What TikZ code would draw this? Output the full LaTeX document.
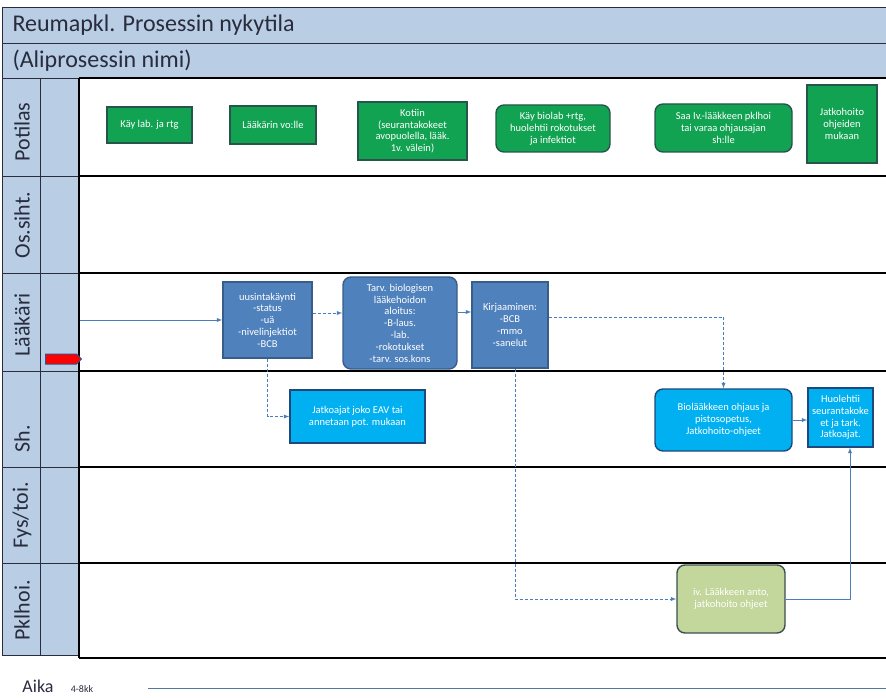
\documentclass[tikz,border=0pt]{standalone}
\usepackage{fontspec}
\setmainfont{Carlito}
\usetikzlibrary{arrows,shapes.symbols,positioning}

\definecolor{lanefill}{RGB}{185,205,229}
\definecolor{linec}{RGB}{40,44,60}
\definecolor{greenfill}{RGB}{18,163,82}
\definecolor{greenedge}{RGB}{40,85,75}
\definecolor{bluefill}{RGB}{79,129,189}
\definecolor{blueedge}{RGB}{56,93,138}
\definecolor{skyfill}{RGB}{0,176,240}
\definecolor{skyedge}{RGB}{31,73,125}
\definecolor{olivefill}{RGB}{195,214,155}
\definecolor{oliveedge}{RGB}{60,80,80}
\definecolor{arrowc}{RGB}{74,126,187}
\definecolor{markedge}{RGB}{56,80,140}
\definecolor{timec}{RGB}{80,120,160}

\newcommand{\boxfont}{\fontsize{10.5}{11.8}\selectfont}

\begin{document}
\begin{tikzpicture}[
  x=1pt, y=-1pt,
  >=latex,
  mybox/.style={
    line width=1.4pt,
    text=white,
    align=center,
    inner sep=2pt,
    font=\boxfont
    },
  mygreen/.style={mybox, draw=greenedge, fill=greenfill},
  myblue/.style={mybox, draw=blueedge, fill=bluefill},
  mysky/.style={mybox, draw=skyedge, fill=skyfill},
  myolive/.style={mybox, draw=oliveedge, fill=olivefill},
  myround/.style={rounded corners=8pt},
  myarrow/.style={->, draw=arrowc, line width=0.9pt},
  mydash/.style={myarrow, dash pattern=on 3pt off 2pt},
  lanelabel/.style={rotate=90, anchor=west, text=linec,
    font=\fontsize{22}{24}\selectfont}
]
\useasboundingbox (0,0) rectangle (886,698);

% title bars
\draw[fill=lanefill, draw=linec] (2,7) rectangle (890,43);
\node[anchor=west, text=linec, font=\fontsize{24}{27}\selectfont] (title) at (9,25) {Reumapkl. Prosessin nykytila};
\draw[fill=lanefill, draw=linec] (2,43) rectangle (890,78);
\node[anchor=west, text=linec, font=\fontsize{24}{27}\selectfont] (subtitle) at (9,61) {(Aliprosessin nimi)};

% lanes
\foreach \top/\bot/\lbl [count=\i] in {78/176/Potilas, 176/273/Os.siht., 273/371/Lääkäri,
    371/467/Sh., 467/563/{Fys/toi.}, 563/655/Pklhoi.} {
  \draw[fill=lanefill, draw=linec] (2,\top) rectangle (40,\bot);
  \draw[fill=lanefill, draw=linec] (40,\top) rectangle (79,\bot);
  \node[lanelabel] (lane\i) at (22,\bot-11) {\lbl};
}
\draw[line width=2.2pt] (79,78) -- (79,658);
\foreach \y in {78,176,273,371,467,563,658}
    \draw[line width=2.2pt] (79,\y) -- (890,\y);

% Potilas
\node[mygreen, minimum width=85, minimum height=36] (kay) at (149.5,125) {Käy lab. ja rtg};
\node[mygreen, minimum width=86, minimum height=38] (vo) at (273,125) {Lääkärin vo:lle};
\node[mygreen, minimum width=109, minimum height=58] (kotiin) at (412.5,131)
    {Kotiin\\(seurantakokeet\\avopuolella, lääk.\\1v. välein)};
\node[mygreen, myround, minimum width=114, minimum height=47] (biolab) at (553,128.5)
    {Käy biolab +rtg,\\huolehtii rokotukset\\ja infektiot};
\node[mygreen, myround, minimum width=137, minimum height=48] (saa) at (723.5,128)
    {Saa Iv.-lääkkeen pklhoi\\tai varaa ohjausajan\\sh:lle};
\node[mygreen, minimum width=70, minimum height=78] (jatkoh) at (842,124)
    {Jatkohoito\\ohjeiden\\mukaan};

% Lääkäri
\node[myblue, minimum width=89, minimum height=76] (uusinta) at (267.5,320)
    {uusintakäynti\\-status\\-uä\\-nivelinjektiot\\-BCB};
\node[myblue, myround, minimum width=114, minimum height=92] (tarv) at (400,323)
    {Tarv. biologisen\\lääkehoidon\\aloitus:\\-B-laus.\\-lab.\\-rokotukset\\-tarv. sos.kons};
\node[myblue, minimum width=76, minimum height=86] (kirj) at (510,325)
    {Kirjaaminen:\\-BCB\\-mmo\\-sanelut};

% Sh.
\node[mysky, minimum width=135, minimum height=53] (jatko) at (357.5,416.5)
    {Jatkoajat joko EAV tai\\annetaan pot. mukaan};
\node[mysky, myround, minimum width=137, minimum height=62] (bioohj) at (723.5,420)
    {Biolääkkeen ohjaus ja\\pistosopetus,\\Jatkohoito-ohjeet};
\node[mysky, minimum width=65, minimum height=59] (huol) at (840.5,417.5)
    {Huolehtii\\seurantakoke\\et ja tark.\\Jatkoajat.};

% Pklhoi.
\node[myolive, myround, minimum width=108, minimum height=68] (ivanto) at (731,599)
    {iv. Lääkkeen anto,\\jatkohoito ohjeet};

% marker
\node[signal, signal to=east, fill=red, draw=markedge, line width=1pt,
    minimum width=36, minimum height=10, inner sep=0pt] (marker) at (61,359) {};

% connectors
\coordinate (start) at (80,320);
\draw[myarrow] (start) -- (uusinta);
\draw[mydash] ([yshift=7pt]uusinta.east) -- ([yshift=7pt]uusinta.east -| tarv.west);
\draw[myarrow] ([yshift=11pt]tarv.east) -- ([yshift=11pt]tarv.east -| kirj.west);
\draw[mydash] ([yshift=8pt]kirj.east) -| (bioohj.north);
\draw[mydash] ([xshift=5pt]kirj.south) |- (ivanto.west);
\draw[mydash] (uusinta.south) |- (jatko.west);
\draw[myarrow] (bioohj.east) -- (bioohj.east -| huol.west);
\draw[myarrow] (ivanto.east) -| ([xshift=9.5pt]huol.south);

% time line
\node[text=linec, font=\fontsize{18}{21}\selectfont] (aika) at (38,686) {Aika};
\node[text=linec, font=\fontsize{10}{12}\selectfont] (kesto) at (82,689) {4-8kk};
\coordinate (t0) at (148,688);
\coordinate (t1) at (890,688);
\draw[draw=timec, line width=0.8pt] (t0) -- (t1);
\end{tikzpicture}
\end{document}
